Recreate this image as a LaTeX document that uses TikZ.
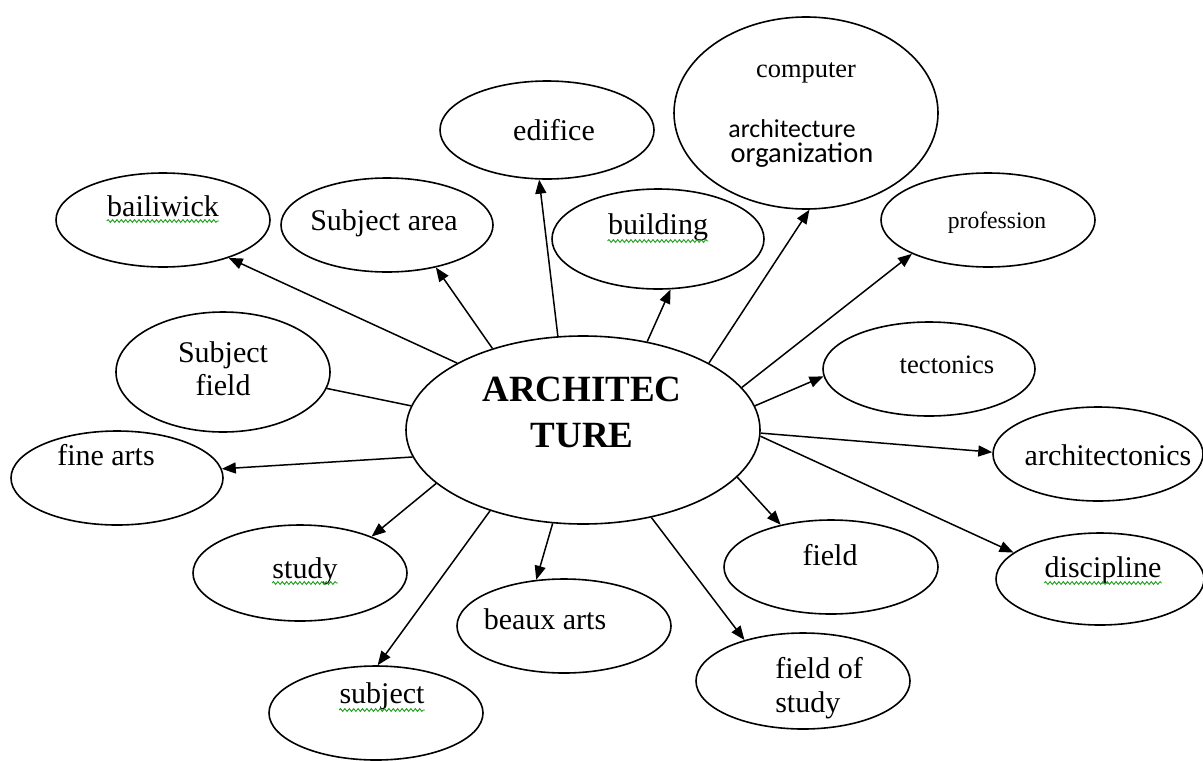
\documentclass[tikz,border=0pt]{standalone}
\usepackage{fontspec}
\setmainfont{Liberation Serif}
\newfontfamily\carlito{Carlito}
\usetikzlibrary{shapes.geometric,arrows.meta,decorations.pathmorphing}
\definecolor{spellgreen}{RGB}{30,160,30}
\begin{document}
\begin{tikzpicture}[x=0.5pt,y=-0.5pt,
  bub/.style 2 args={draw, ellipse, line width=0.8pt, inner sep=0pt, minimum width=#1pt, minimum height=#2pt},
  lbl/.style={inner sep=0pt, anchor=base, font=\fontsize{15}{17}\selectfont},
  mlbl/.style={inner sep=0pt, anchor=center},
  link/.style={line width=0.75pt, -{Triangle[length=7pt,width=5.5pt]}},
  bareline/.style={line width=0.75pt},
  squig/.style={draw=spellgreen, line width=0.45pt, decorate, decoration={snake, segment length=2.2pt, amplitude=0.7pt}}]
\useasboundingbox (0,0) rectangle (1203,760);

% ellipses
\node[bub={177}{94}] (arch) at (583,430) {};
\node[bub={107}{47}] (bail) at (163,220) {};
\node[bub={106}{47}] (sarea) at (387,225) {};
\node[bub={107}{49}] (edif) at (547,130) {};
\node[bub={132}{96}] (comp) at (806,113) {};
\node[bub={106}{50}] (build) at (658,239) {};
\node[bub={107}{47}] (prof) at (988,220) {};
\node[bub={106}{47}] (tect) at (929,369) {};
\node[bub={105}{47}] (archt) at (1098,454) {};
\node[bub={104}{46}] (disc) at (1100,579) {};
\node[bub={107}{47}] (field) at (831,567) {};
\node[bub={107}{48}] (fos) at (803,681) {};
\node[bub={107}{47}] (beaux) at (564,626) {};
\node[bub={107}{47}] (subj) at (376,713) {};
\node[bub={107}{48}] (study) at (300,573) {};
\node[bub={106}{47}] (fine) at (117,478) {};
\node[bub={107}{60}] (sfield) at (223,372) {};

% texts
\node[mlbl, align=center, font=\bfseries\fontsize{18.5}{23}\selectfont] (archtxt) at (582,412) {ARCHITEC\\TURE};
\node[lbl] (bailt) at (163,216) {bailiwick};
\node[lbl] (sareat) at (384,230) {Subject area};
\node[lbl] (ediftxt) at (554,140) {edifice};
\node[lbl, font=\fontsize{13.2}{15}\selectfont] (compa) at (806,77) {computer};
\node[lbl, font=\carlito\fontsize{12.9}{15}\selectfont] (compb) at (792,137) {architecture};
\node[lbl, font=\carlito\fontsize{14.25}{16}\selectfont] (compc) at (802,162) {organization};
\node[lbl] (buildt) at (658,234) {building};
\node[lbl, font=\fontsize{11.8}{14}\selectfont] (proft) at (997,228) {profession};
\node[lbl, font=\fontsize{13.3}{15}\selectfont] (tectt) at (947,373) {tectonics};
\node[lbl] (archtt) at (1108,465) {architectonics};
\node[lbl] (fieldt) at (830,565) {field};
\node[lbl] (disct) at (1103,577) {discipline};
\node[mlbl, align=left, font=\fontsize{15}{17}\selectfont] (fost) at (819,688) {field of\\study};
\node[lbl] (beauxt) at (545,629) {beaux arts};
\node[lbl] (subjt) at (382,703) {subject};
\node[lbl] (studyt) at (305,578) {study};
\node[lbl] (finet) at (106,465) {fine arts};
\node[mlbl, align=center, font=\fontsize{15}{16.5}\selectfont] (sfieldt) at (223,369) {Subject\\field};

% spell-check squiggles
\draw[squig] ([yshift=-2.5pt]bailt.base west) -- ([yshift=-2.5pt]bailt.base east);
\draw[squig] ([yshift=-3.5pt]buildt.base west) -- ([yshift=-3.5pt]buildt.base east);
\draw[squig] ([yshift=-2.5pt]studyt.base west) -- ([yshift=-2.5pt]studyt.base east);
\draw[squig] ([yshift=-3.5pt]subjt.base west) -- ([yshift=-3.5pt]subjt.base east);
\draw[squig] ([yshift=-3pt]disct.base west) -- ([yshift=-3pt]disct.base east);

% connectors
\draw[link] (arch.152) -- (bail.-30);
\draw[link] (arch.138) -- (sarea.-41);
\draw[link] (arch.105) -- (edif.-99);
\draw[link] (arch.54) -- (build.-76);
\draw[link] (arch.28) -- (comp.-88);
\draw[link] (arch.15) -- (prof.-156);
\draw[link] (arch.8) -- (tect.184);
\draw[link] (arch.-1) -- (archt.179);
\draw[link] (arch.-2) -- (disc.163);
\draw[link] (arch.-17) -- (field.140);
\draw[link] (arch.-52) -- (fos.145);
\draw[link] (arch.-108) -- (beaux.121);
\draw[link] (arch.-139) -- (subj.88);
\draw[link] (arch.-160) -- (study.27);
\draw[link] (arch.-171) -- (fine.5);
\draw[bareline] (arch.172) -- (sfield.-9);
\end{tikzpicture}
\end{document}
